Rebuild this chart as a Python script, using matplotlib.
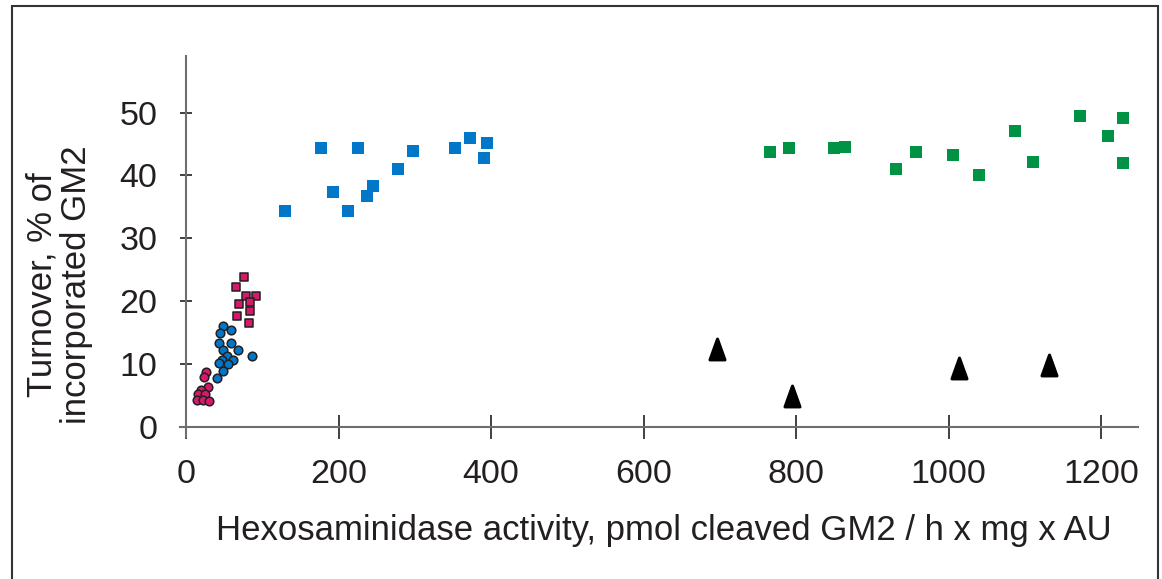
import matplotlib.pyplot as plt
from matplotlib.patches import Rectangle
from matplotlib.path import Path

plt.rcParams['font.family'] = ['Liberation Sans', 'DejaVu Sans']

# pink circles
pink_circ_x = [26, 23, 29, 20, 15, 25, 14, 22, 30]
pink_circ_y = [8.7, 8.0, 6.4, 5.9, 5.2, 5.2, 4.3, 4.3, 4.1]

# blue circles
blue_circ_x = [48, 45, 59, 43, 59, 48, 68, 54, 62, 47, 55, 43, 87, 49, 41]
blue_circ_y = [16.0, 14.9, 15.4, 13.3, 13.3, 12.2, 12.2, 11.3, 10.6, 10.6, 10.0, 10.1, 11.2, 8.9, 7.8]

# pink squares
pink_sq_x = [76, 65, 79, 92, 70, 84, 84, 67, 82]
pink_sq_y = [23.8, 22.2, 20.9, 20.9, 19.5, 19.8, 18.5, 17.6, 16.6]

# blue squares
blue_sq_x = [130, 177, 192, 225, 212, 237, 245, 278, 297, 353, 372, 394, 391]
blue_sq_y = [34.4, 44.3, 37.3, 44.4, 34.4, 36.7, 38.3, 41.0, 43.9, 44.3, 45.9, 45.1, 42.7]

# green squares
green_sq_x = [766, 791, 849, 864, 931, 957, 1006, 1040, 1087, 1110, 1172, 1209, 1229, 1229]
green_sq_y = [43.8, 44.3, 44.3, 44.6, 41.0, 43.8, 43.2, 40.0, 47.0, 42.1, 49.4, 46.3, 49.2, 41.9]

# black triangles
tri_x = [696, 795, 1014, 1131]
tri_y = [12.4, 4.9, 9.4, 9.8]

x_ticks = [0, 200, 400, 600, 800, 1000, 1200]
y_ticks = [0, 10, 20, 30, 40, 50]

fig = plt.figure(figsize=(11.62, 5.79), dpi=100)
ax = fig.add_axes([0.1549, 0.2453, 0.8244, 0.658])

# outer frame
fig.patches.append(Rectangle((12 / 1162, -0.05), (1158 - 12) / 1162, 1.05 - 6 / 579,
                             transform=fig.transFigure, fill=False,
                             edgecolor='#333333', linewidth=1.5, clip_on=False))

pink = '#d6196b'
blue = '#0077c8'
green = '#009245'

ax.scatter(blue_sq_x, blue_sq_y, marker='s', s=8.6**2, color=blue, linewidths=0, zorder=3)
ax.scatter(green_sq_x, green_sq_y, marker='s', s=8.6**2, color=green, linewidths=0, zorder=3)
ax.scatter(pink_sq_x, pink_sq_y, marker='s', s=6.3**2, color=pink,
           edgecolors='#231f20', linewidths=1.1, zorder=3)
ax.scatter(blue_circ_x, blue_circ_y, marker='o', s=6.2**2, color=blue,
           edgecolors='#231f20', linewidths=1.1, zorder=3)
ax.scatter(pink_circ_x, pink_circ_y, marker='o', s=6.2**2, color=pink,
           edgecolors='#231f20', linewidths=1.1, zorder=3)

# rounded black triangles
tri = Path([(0, 1), (-0.72, -1), (0.72, -1), (0, 1)],
           [Path.MOVETO, Path.LINETO, Path.LINETO, Path.CLOSEPOLY])
tri_line, = ax.plot(tri_x, tri_y, linestyle='none', marker=tri, markersize=15,
                    color='black', markeredgewidth=2.2, markeredgecolor='black', zorder=3)
tri_line.set_solid_joinstyle('round')

ax.set_xlim(-8, 1248)
ax.set_ylim(-1.6, 59)

for side in ['top', 'right']:
    ax.spines[side].set_visible(False)
ax.spines['left'].set_position(('data', 0))
ax.spines['bottom'].set_position(('data', 0))
for side in ['left', 'bottom']:
    ax.spines[side].set_color('#6d6e71')
    ax.spines[side].set_linewidth(1.5)

ax.set_xticks(x_ticks)
ax.set_yticks(y_ticks)
ax.tick_params(axis='x', direction='inout', length=17.5, width=1.2, color='#231f20',
               labelsize=24.5, labelcolor='#231f20', pad=14)
ax.tick_params(axis='y', direction='inout', length=9, width=1.2, color='#231f20',
               labelsize=24.5, labelcolor='#231f20', pad=16)

ax.set_xlabel('Hexosaminidase activity, pmol cleaved GM2 / h x mg x AU',
              fontsize=25, color='#231f20', va='center')
ax.xaxis.set_label_coords(0.505, -0.245)
ax.set_ylabel('Turnover, % of\nincorporated GM2', fontsize=25, color='#231f20',
              va='center', linespacing=1.05)
ax.yaxis.set_label_coords(-0.126, 0.4)

fig.savefig('out.png', dpi=100)
